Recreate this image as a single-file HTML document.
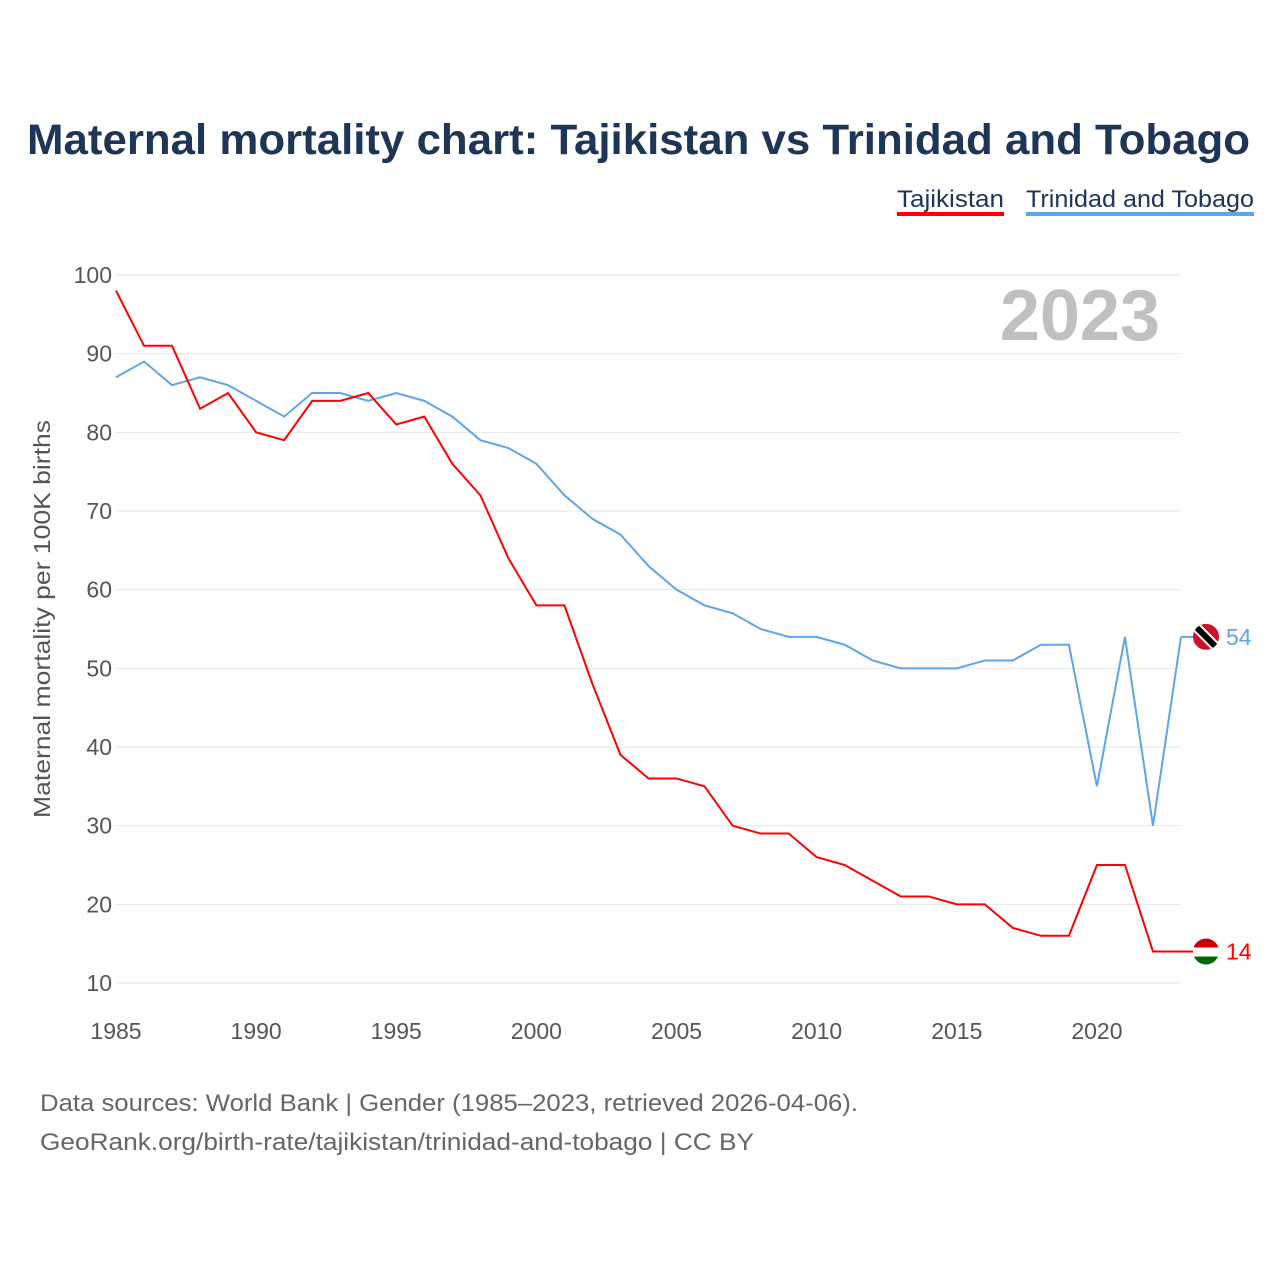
<!DOCTYPE html>
<html><head><meta charset="utf-8">
<style>
body{margin:0;background:#fff;font-family:"Liberation Sans",sans-serif;}
svg text{font-family:"Liberation Sans",sans-serif;}
</style></head>
<body>
<svg width="1280" height="1280" viewBox="0 0 1280 1280">
<text x="27" y="154" font-size="43" font-weight="bold" fill="#1d3557" textLength="1223" lengthAdjust="spacingAndGlyphs">Maternal mortality chart: Tajikistan vs Trinidad and Tobago</text>
<g>
<text x="897" y="207" font-size="24" fill="#1d3557" textLength="107" lengthAdjust="spacingAndGlyphs">Tajikistan</text>
<rect x="897" y="212" width="107" height="4" fill="#ff0000"/></g>
<g>
<text x="1026" y="207" font-size="24" fill="#1d3557" textLength="228" lengthAdjust="spacingAndGlyphs">Trinidad and Tobago</text>
<rect x="1026" y="212" width="228" height="4" fill="#5ea5ea"/></g>
<g id="grid"></g>
<text x="1160" y="340" text-anchor="end" font-size="72" font-weight="bold" fill="#c0c0c0">2023</text>
<text transform="translate(50,818) rotate(-90)" font-size="23" fill="#555" textLength="398" lengthAdjust="spacingAndGlyphs">Maternal mortality per 100K births</text>
<g id="series"></g>
<text x="40" y="1111" font-size="24" fill="#666" textLength="818" lengthAdjust="spacingAndGlyphs">Data sources: World Bank | Gender (1985–2023, retrieved 2026-04-06).</text>
<text x="40" y="1150" font-size="24" fill="#666" textLength="714" lengthAdjust="spacingAndGlyphs">GeoRank.org/birth-rate/tajikistan/trinidad-and-tobago | CC BY</text>
</svg>
<script>
const years=[];for(let y=1985;y<=2023;y++)years.push(y);
const tajikistan=[98,91,91,83,85,80,79,84,84,85,81,82,76,72,64,58,58,48,39,36,36,35,30,29,29,26,25,23,21,21,20,20,17,16,16,25,25,14,14];
const trinidad=[87,89,86,87,86,84,82,85,85,84,85,84,82,79,78,76,72,69,67,63,60,58,57,55,54,54,53,51,50,50,50,51,51,53,53,35,54,30,54];
const yTicks=[10,20,30,40,50,60,70,80,90,100];
const xTicks=[1985,1990,1995,2000,2005,2010,2015,2020];
const X=v=>116+(v-1985)*(1181-116)/38;
const Y=v=>983-(v-10)*(983-275)/90;
const NS="http://www.w3.org/2000/svg";
function mk(tag,attrs,parent){const e=document.createElementNS(NS,tag);for(const k in attrs)e.setAttribute(k,attrs[k]);parent.appendChild(e);return e;}
const grid=document.getElementById('grid');
yTicks.forEach(t=>{
 const l=mk('line',{x1:116,x2:1181,y1:Y(t),y2:Y(t),stroke:'#e6e6e6','stroke-width':1},grid);
 
 
 const tx=mk('text',{x:112,y:Y(t)+8,'text-anchor':'end','font-size':23,fill:'#555'},grid);tx.textContent=t;
 
 
});
xTicks.forEach(t=>{
 const tx=mk('text',{x:X(t),y:1039,'text-anchor':'middle','font-size':23,fill:'#555'},grid);tx.textContent=t;
 
 
});
const S=document.getElementById('series');
function line(data,color,name){
 const p=mk('polyline',{points:data.map((v,i)=>X(years[i])+','+Y(v)).join(' '),fill:'none',stroke:color,'stroke-width':2},S);
 
 
}
line(trinidad,'#5ea5ea','line-trinidad');
line(tajikistan,'#ff0000','line-tajikistan');
function endLabel(data,color,name,flag){
 const v=data[data.length-1],y=Y(v),cx=1206;
 mk('line',{x1:1181,x2:1193,y1:y,y2:y,stroke:color,'stroke-width':2},S);
 const g=mk('g',{},S);
 
 
 const id='c'+name;
 const cp=mk('clipPath',{id:id},g);mk('circle',{cx:cx,cy:y,r:13},cp);
 const gg=mk('g',{'clip-path':'url(#'+id+')'},g);
 if(flag==='tt'){
  mk('rect',{x:cx-13,y:y-13,width:26,height:26,fill:'#ce1126'},gg);
  mk('line',{x1:cx-13,y1:y-13,x2:cx+13,y2:y+13,stroke:'#fff','stroke-width':10},gg);
  mk('line',{x1:cx-13,y1:y-13,x2:cx+13,y2:y+13,stroke:'#000','stroke-width':6},gg);
 }else{
  mk('rect',{x:cx-13,y:y-13,width:26,height:9,fill:'#cc0000'},gg);
  mk('rect',{x:cx-13,y:y-4,width:26,height:9,fill:'#fff'},gg);
  mk('rect',{x:cx-13,y:y+5,width:26,height:9,fill:'#006600'},gg);
 }
 const t=mk('text',{x:1226,y:y+8,'font-size':23,fill:color},S);t.textContent=v;
 
 
}
endLabel(trinidad,'#5ea5ea','trinidad','tt');
endLabel(tajikistan,'#ff0000','tajikistan','tj');
</script>
</body></html>
